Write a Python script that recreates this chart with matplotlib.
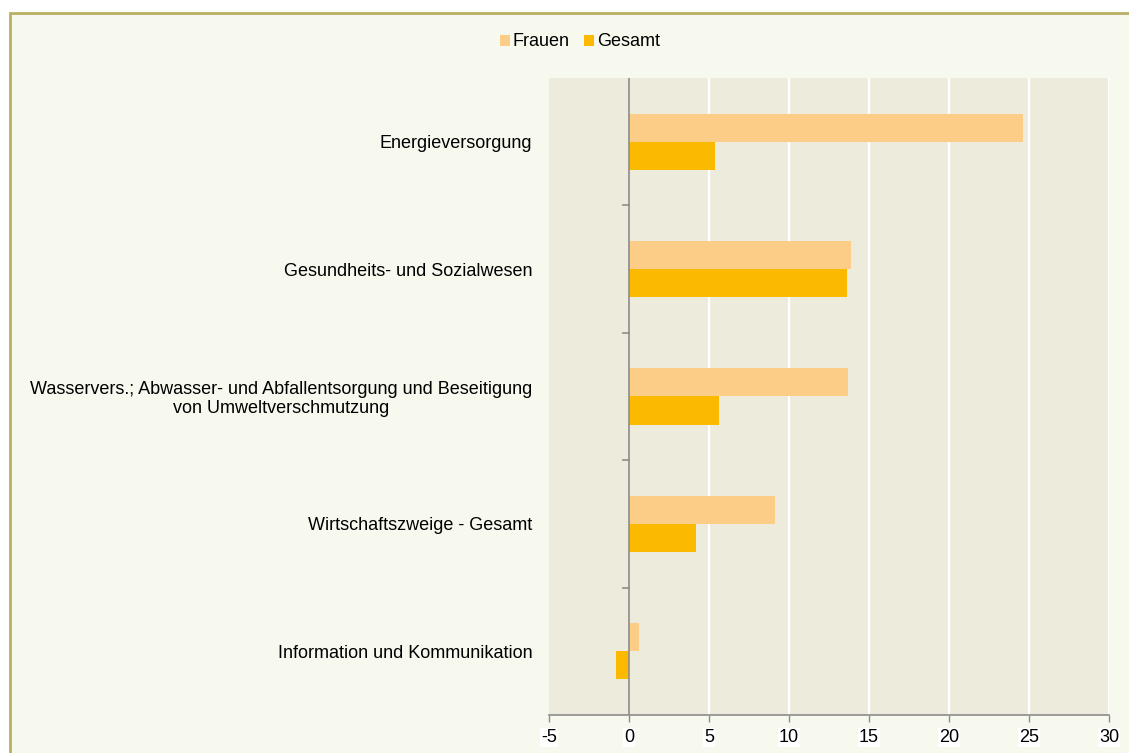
import numpy as np
import matplotlib
matplotlib.use("Agg")
import matplotlib.pyplot as plt
from matplotlib.patches import Rectangle, Patch

plt.rcParams['font.family'] = ['Liberation Sans', 'DejaVu Sans']

# ─── Data ─────────────────────────────────────────────────────────────────────
categories = [
    "Energieversorgung",
    "Gesundheits- und Sozialwesen",
    "Wasservers.; Abwasser- und Abfallentsorgung und Beseitigung\nvon Umweltverschmutzung",
    "Wirtschaftszweige - Gesamt",
    "Information und Kommunikation",
]
frauen = [24.6, 13.9, 13.7, 9.1, 0.6]
gesamt = [5.4, 13.6, 5.6, 4.2, -0.8]
series_names = ["Frauen", "Gesamt"]
x_ticks = [-5, 0, 5, 10, 15, 20, 25, 30]

# ─── Style ────────────────────────────────────────────────────────────────────
c_frauen = '#FBCD87'
c_gesamt = '#FBB900'
bg_outer = '#F8F9EE'
bg_plot = '#EDEBDC'
frame_col = '#B9B062'
axis_col = '#8C8C8C'
fs = 13

fig = plt.figure(figsize=(11.29, 7.53), dpi=100, facecolor='white')

# outer chart frame (cut at right/bottom)
fig.patches.append(Rectangle((10 / 1129, -0.05), 1.1, 1 - 13 / 753 + 0.05,
                             transform=fig.transFigure, facecolor=bg_outer,
                             edgecolor=frame_col, linewidth=2, zorder=-5))

ax = fig.add_axes([549 / 1129, 1 - 715 / 753, (1109 - 549) / 1129, (715 - 78) / 753])
ax.set_zorder(2)
ax.set_facecolor(bg_plot)

y = np.arange(len(categories))
h = 0.22
ax.barh(y - h / 2, frauen, height=h, color=c_frauen, zorder=3)
ax.barh(y + h / 2, gesamt, height=h, color=c_gesamt, zorder=3)

ax.set_xlim(-5, 30)
ax.set_ylim(len(categories) - 0.5, -0.5)

# vertical white gridlines
for xv in x_ticks[2:]:
    ax.axvline(xv, color='white', linewidth=1.6, zorder=1)
ax.axvline(0, color=axis_col, linewidth=1.2, zorder=4)

for s in ['top', 'right', 'left']:
    ax.spines[s].set_visible(False)
ax.spines['bottom'].set_color(axis_col)
ax.spines['bottom'].set_linewidth(1.2)

ax.set_xticks(x_ticks)
ax.set_xticklabels([str(v) for v in x_ticks], fontsize=fs)
ax.tick_params(axis='x', direction='out', length=5, color=axis_col, width=1, pad=5)
for lbl in ax.get_xticklabels():
    lbl.set_bbox(dict(facecolor='white', edgecolor='none', pad=0.5))

# y: category labels without ticks, boundary ticks on the zero line
ax.set_yticks(y)
ax.set_yticklabels(categories, fontsize=fs, linespacing=1.15)
ax.tick_params(axis='y', length=0, pad=12)
for lbl in ax.get_yticklabels():
    lbl.set_multialignment('center')
for yb in np.arange(0.5, len(categories) - 0.5, 1.0):
    ax.plot([-0.38, 0], [yb, yb], color=axis_col, linewidth=1.2, zorder=4, clip_on=False)

# legend
handles = [Patch(facecolor=c_frauen, edgecolor='none'),
           Patch(facecolor=c_gesamt, edgecolor='none')]
fig.legend(handles, series_names, loc='center', bbox_to_anchor=(580 / 1129, 1 - 42 / 753),
           ncol=2, frameon=False, fontsize=fs, handlelength=0.55, handleheight=0.55,
           handletextpad=0.15, columnspacing=0.8)

fig.savefig("out.png", dpi=100, facecolor=fig.get_facecolor())
